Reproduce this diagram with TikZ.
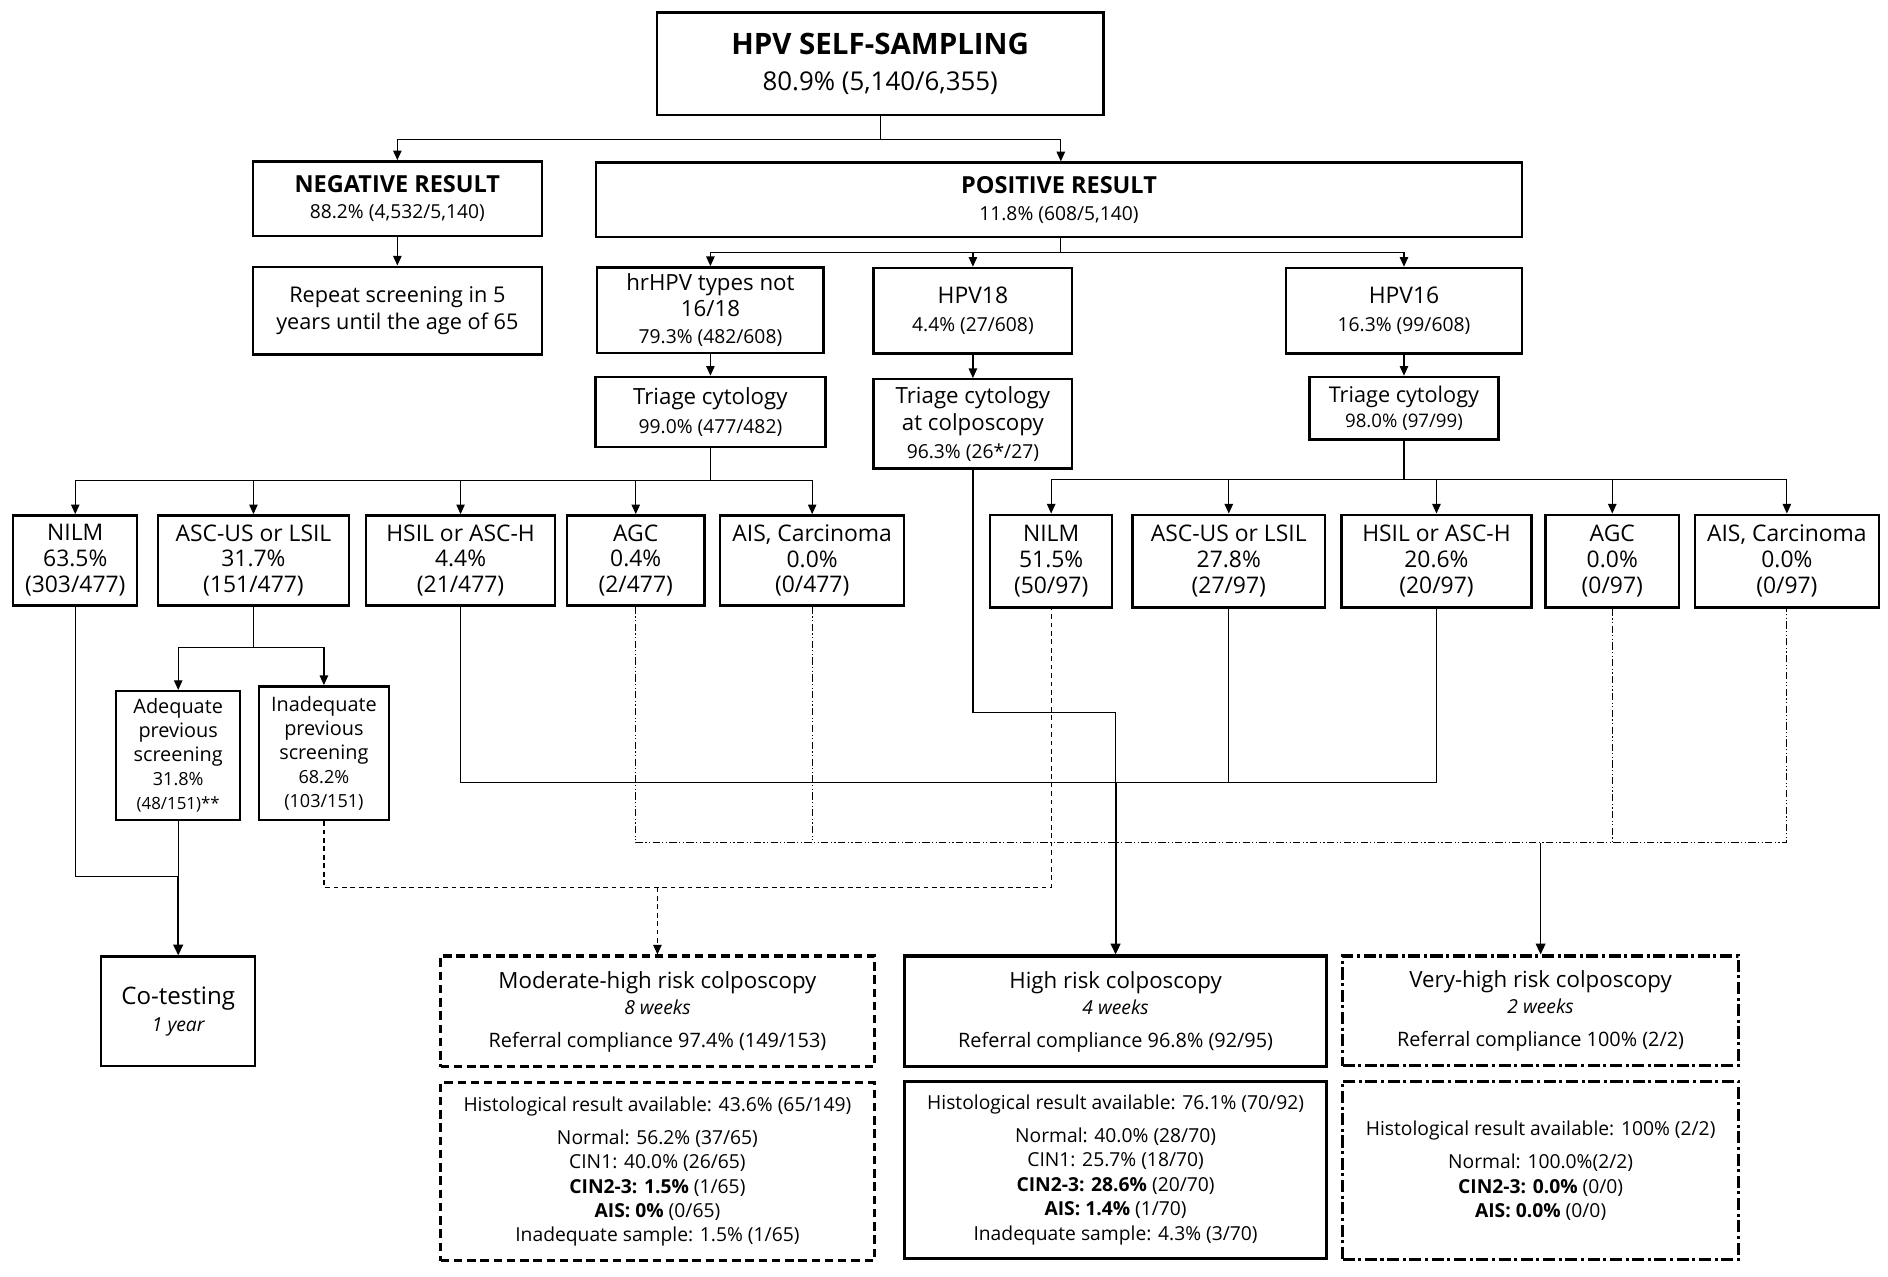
\documentclass[tikz,border=0pt]{standalone}
\usepackage{fontspec}
\setmainfont{Open Sans}
\usetikzlibrary{arrows.meta}
\newcommand\fsz[2]{\fontsize{#1}{#2}\selectfont}
\begin{document}
\begin{tikzpicture}[x=1pt,y=-1pt,
  box/.style={draw, line width=2pt, inner sep=0pt, align=center, font=\fsz{18.5}{22}},
  solidbox/.style={box, line width=2.6pt},
  dashbox/.style={box, line width=2.6pt, dash pattern=on 7pt off 4pt},
  ddbox/.style={box, line width=2.6pt, dash pattern=on 10pt off 3pt on 2.5pt off 3pt},
  conn/.style={line width=1pt},
  arr/.style={line width=1pt, -{Triangle[length=8pt,width=7pt]}},
  thickarr/.style={line width=1.8pt, -{Triangle[length=9pt,width=8pt]}},
  dashline/.style={line width=1pt, dash pattern=on 4pt off 3pt},
  dasharr/.style={dashline, -{Triangle[length=8pt,width=7pt]}},
  ddline/.style={line width=1pt, dash pattern=on 6pt off 2pt on 1pt off 2pt on 1pt off 2pt}
]
\fill[white] (0,0) rectangle (1568,1060);
\useasboundingbox (0,0) rectangle (1568,1060);

% top levels
\node[box, minimum width=371pt, minimum height=85pt, font=\fsz{21.5}{30}] (top) at (731,53)
  {{\fsz{24.5}{30}\bfseries HPV SELF-SAMPLING}\\80.9\% (5,140/6,355)};
\node[box, minimum width=240pt, minimum height=62pt, font=\fsz{19.5}{22}] (neg) at (330,165)
  {{\bfseries NEGATIVE RESULT}\\{\fsz{16}{22}88.2\% (4,532/5,140)}};
\node[box, minimum width=769pt, minimum height=62pt, font=\fsz{19.5}{22.5}] (pos) at (879.5,166)
  {{\bfseries POSITIVE RESULT}\\{\fsz{16}{22.5}11.8\% (608/5,140)}};
\node[box, minimum width=240pt, minimum height=73pt, font=\fsz{18}{22}] (repeat) at (330,258)
  {Repeat screening in 5\\years until the age of 65};

% HPV types
\node[box, minimum width=188pt, minimum height=71pt] (hrhpv) at (590,257.5)
  {hrHPV types not\\16/18\\{\fsz{16}{22}79.3\% (482/608)}};
\node[box, minimum width=165pt, minimum height=71pt, font=\fsz{19}{23}] (hpveighteen) at (808,258)
  {HPV18\\{\fsz{16}{23}4.4\% (27/608)}};
\node[box, minimum width=196pt, minimum height=71pt, font=\fsz{19}{23}] (hpvsixteen) at (1166,258)
  {HPV16\\{\fsz{16}{23}16.3\% (99/608)}};

% triage
\node[box, minimum width=191pt, minimum height=58pt, font=\fsz{18.5}{24}] (tri1) at (590,342)
  {Triage cytology\\{\fsz{16}{24}99.0\% (477/482)}};
\node[box, minimum width=165pt, minimum height=74pt, font=\fsz{18.5}{23}] (trieighteen) at (808,352)
  {Triage cytology\\at colposcopy\\{\fsz{16}{23}96.3\% (26*/27)}};
\node[box, minimum width=157pt, minimum height=52pt, font=\fsz{18}{21}] (trisixteen) at (1166,339)
  {Triage cytology\\{\fsz{15.5}{21}98.0\% (97/99)}};

% left row
\begin{scope}[every node/.append style={box, minimum height=75pt, font=\fsz{19}{21.5}}]
\node[minimum width=103pt] (nilmL) at (62.5,465.5) {NILM\\63.5\%\\(303/477)};
\node[minimum width=159pt] (ascL) at (210.5,465.5) {ASC-US or LSIL\\31.7\%\\(151/477)};
\node[minimum width=157pt] (hsilL) at (382.5,465.5) {HSIL or ASC-H\\4.4\%\\(21/477)};
\node[minimum width=114pt] (agcL) at (528,465.5) {AGC\\0.4\%\\(2/477)};
\node[minimum width=153pt] (aisL) at (674.5,465.5) {AIS, Carcinoma\\0.0\%\\(0/477)};
% right row
\node[minimum width=101.5pt, minimum height=77pt] (nilmR) at (873,466) {NILM\\51.5\%\\(50/97)};
\node[minimum width=160pt, minimum height=77pt] (ascR) at (1020.5,466) {ASC-US or LSIL\\27.8\%\\(27/97)};
\node[minimum width=158pt, minimum height=77pt] (hsilR) at (1193,466) {HSIL or ASC-H\\20.6\%\\(20/97)};
\node[minimum width=111pt, minimum height=77pt] (agcR) at (1339,466) {AGC\\0.0\%\\(0/97)};
\node[minimum width=153pt, minimum height=77pt] (aisR) at (1484,466) {AIS, Carcinoma\\0.0\%\\(0/97)};
\end{scope}

% adequate / inadequate
\node[box, minimum width=103pt, minimum height=107pt, font=\fsz{16.5}{20}] (adeq) at (148,627.5)
  {Adequate\\previous\\screening\\{\fsz{15}{20}31.8\%}\\{\fsz{14}{20}(48/151)**}};
\node[box, minimum width=108pt, minimum height=111pt, font=\fsz{16.5}{20}] (inad) at (269,625.5)
  {Inadequate\\previous\\screening\\{\fsz{15}{20}68.2\%}\\{\fsz{15}{20}(103/151)}};

% co-testing
\node[box, minimum width=128pt, minimum height=91pt, font=\fsz{20}{23}] (cotest) at (148,840)
  {Co-testing\\{\fsz{16}{23}\itshape 1 year}};

% colposcopy boxes
\node[dashbox, minimum width=360pt, minimum height=92pt] (modhigh) at (546,840)
  {Moderate-high risk colposcopy\\{\fsz{16}{22}\itshape 8 weeks}\\[5pt]{\fsz{16.5}{22}Referral compliance 97.4\% (149/153)}};
\node[solidbox, minimum width=350pt, minimum height=92pt] (high) at (926.5,840)
  {High risk colposcopy\\{\fsz{16}{22}\itshape 4 weeks}\\[5pt]{\fsz{16.5}{22}Referral compliance 96.8\% (92/95)}};
\node[ddbox, minimum width=329pt, minimum height=91pt] (vhigh) at (1279.5,839.5)
  {Very-high risk colposcopy\\{\fsz{16}{22}\itshape 2 weeks}\\[5pt]{\fsz{16.5}{22}Referral compliance 100\% (2/2)}};

% histology boxes
\node[dashbox, minimum width=360pt, minimum height=148pt, font=\fsz{16}{20.3}] (histA) at (546,973)
  {Histological result available: 43.6\% (65/149)\\[7pt]Normal: 56.2\% (37/65)\\CIN1: 40.0\% (26/65)\\\textbf{CIN2-3: 1.5\%} (1/65)\\\textbf{AIS: 0\%} (0/65)\\Inadequate sample: 1.5\% (1/65)};
\node[solidbox, minimum width=350pt, minimum height=147pt, font=\fsz{16}{20.3}] (histB) at (926.5,971.5)
  {Histological result available: 76.1\% (70/92)\\[7pt]Normal: 40.0\% (28/70)\\CIN1: 25.7\% (18/70)\\\textbf{CIN2-3: 28.6\%} (20/70)\\\textbf{AIS: 1.4\%} (1/70)\\Inadequate sample: 4.3\% (3/70)};
\node[ddbox, minimum width=329pt, minimum height=148pt, font=\fsz{16}{20}] (histC) at (1279.5,972)
  {Histological result available: 100\% (2/2)\\[8pt]Normal: 100.0\%(2/2)\\\textbf{CIN2-3: 0.0\%} (0/0)\\\textbf{AIS: 0.0\%} (0/0)};

% junction levels
\coordinate (jtop) at (0,116);
\coordinate (jpos) at (0,210);
\coordinate (jtriA) at (0,399);
\coordinate (jtriB) at (0,398);
\coordinate (jasc) at (0,538);
\coordinate (jco) at (0,728);
\coordinate (jdash) at (0,737);
\coordinate (jhpv) at (0,592);
\coordinate (jhigh) at (0,650);
\coordinate (jdd) at (0,700);

% connectors top
\draw[conn] (top.south) -- (top.south |- jtop);
\draw[arr] (top.south |- jtop) -| (neg.north);
\draw[arr] (top.south |- jtop) -| ([xshift=1.5pt]pos.north);
\draw[arr] (neg.south) -- (repeat.north);
\draw[conn] ([xshift=1.5pt]pos.south) -- ([xshift=1.5pt]pos.south |- jpos);
\draw[arr] ([xshift=1.5pt]pos.south |- jpos) -| (hrhpv.north);
\draw[arr] ([xshift=1.5pt]pos.south |- jpos) -| (hpveighteen.north);
\draw[arr] ([xshift=1.5pt]pos.south |- jpos) -| (hpvsixteen.north);
\draw[arr] (hrhpv.south) -- (tri1.north);
\draw[arr] (hpveighteen.south) -- (trieighteen.north);
\draw[arr] (hpvsixteen.south) -- (trisixteen.north);

% triage to rows
\draw[conn] (tri1.south) -- (tri1.south |- jtriA);
\foreach \n in {nilmL,ascL,hsilL,agcL,aisL}
  \draw[arr] (tri1.south |- jtriA) -| (\n.north);
\draw[conn] (trisixteen.south) -- (trisixteen.south |- jtriB);
\foreach \n in {nilmR,ascR,hsilR,agcR,aisR}
  \draw[arr] (trisixteen.south |- jtriB) -| (\n.north);

% ASC-US split
\draw[conn] (ascL.south) -- (ascL.south |- jasc);
\draw[arr] (ascL.south |- jasc) -| (adeq.north);
\draw[arr] (ascL.south |- jasc) -| (inad.north);

% co-testing
\draw[conn] (nilmL.south) |- (cotest.north |- jco);
\draw[conn] (adeq.south) -- (cotest.north |- jco);
\draw[thickarr] (cotest.north |- jco) -- (cotest.north);

% moderate-high (dashed)
\draw[dashline] (inad.south) |- (nilmR.south |- jdash) -- (nilmR.south);
\draw[dasharr] (modhigh.north |- jdash) -- (modhigh.north);

% high risk (solid)
\draw[conn] (hsilL.south) |- (hsilR.south |- jhigh) -- (hsilR.south);
\draw[conn] (ascR.south) -- (ascR.south |- jhigh);
\draw[conn] (trieighteen.south) |- (high.north |- jhpv) -- (high.north |- jhigh);
\draw[thickarr] (high.north |- jhigh) -- (high.north);

% very-high (dash-dot)
\draw[ddline] (agcL.south) |- (aisR.south |- jdd) -- (aisR.south);
\draw[ddline] (aisL.south) -- (aisL.south |- jdd);
\draw[ddline] (agcR.south) -- (agcR.south |- jdd);
\draw[thickarr, line width=1.4pt] (vhigh.north |- jdd) -- (vhigh.north);
\end{tikzpicture}
\end{document}
